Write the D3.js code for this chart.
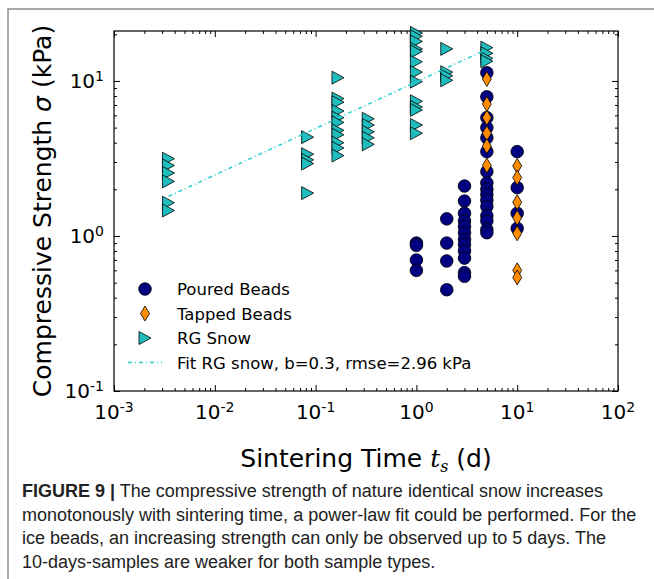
<!DOCTYPE html>
<html>
<head>
<meta charset="utf-8">
<script src="https://cdn.jsdelivr.net/npm/d3@7"></script>
<style>
  body { margin: 0; background: #fff; }
  svg { display: block; }
</style>
</head>
<body>
<div id="chart"></div>
<script>
// data (t in days, sigma in kPa)
var pouredT = [1, 1, 1, 1,
    2, 2, 2, 2,
    3, 3, 3, 3, 3, 3, 3, 3, 3, 3, 3, 3,
    5, 5, 5, 5, 5, 5, 5, 5, 5, 5, 5, 5, 5, 5, 5, 5,
    10, 10, 10, 10];
var pouredS = [0.90, 0.87, 0.70, 0.60,
    1.29, 0.90, 0.69, 0.45,
    2.1, 1.68, 1.4, 1.25, 1.15, 1.05, 0.95, 0.88, 0.8, 0.72, 0.58, 0.55,
    11.3, 7.9, 5.8, 5.0, 4.3, 3.5, 2.6, 2.2, 2.0, 1.85, 1.7, 1.55, 1.35, 1.25, 1.1, 1.05,
    3.5, 2.05, 1.4, 1.12];

var tappedT = [5, 5, 5, 5, 5, 5,
    10, 10, 10, 10, 10, 10, 10];
var tappedS = [10.3, 7.1, 5.8, 4.6, 3.8, 2.85,
    2.83, 2.38, 1.65, 1.31, 1.04, 0.6, 0.54];

var snowT = [0.00347, 0.00347, 0.00347, 0.00347, 0.00347, 0.00347,
    0.0833, 0.0833, 0.0833, 0.0833, 0.0833,
    0.1667, 0.1667, 0.1667, 0.1667, 0.1667, 0.1667, 0.1667, 0.1667, 0.1667, 0.1667, 0.1667,
    0.333, 0.333, 0.333, 0.333, 0.333,
    1, 1, 1, 1, 1, 1, 1, 1, 1, 1, 1, 1, 1,
    2, 2, 2, 2,
    5, 5, 5, 5];
var snowS = [3.15, 2.85, 2.55, 2.25, 1.64, 1.46,
    4.34, 3.37, 3.1, 2.93, 1.89,
    10.5, 7.7, 7.3, 6.4, 5.8, 5.4, 4.8, 4.5, 4.0, 3.7, 3.3,
    5.7, 5.2, 4.7, 4.3, 3.9,
    20.4, 19.4, 18.0, 16.1, 15.5, 13.3, 11.4, 9.9, 7.4, 6.8, 6.5, 5.2, 4.6,
    16.1, 11.4, 10.8, 10.1,
    16.4, 15.1, 14.0, 13.4];

// power-law fit, end points
var fitT = [0.00347, 5];
var fitS = [1.8, 16];

var xExp = [-3, -2, -1, 0, 1, 2];
var yExp = [-1, 0, 1];

var legendLabels = ["Poured Beads", "Tapped Beads", "RG Snow", "Fit RG snow, b=0.3, rmse=2.96 kPa"];

var captionBold = "FIGURE 9 |";
var captionLines = [
    " The compressive strength of nature identical snow increases",
    "monotonously with sintering time, a power-law fit could be performed. For the",
    "ice beads, an increasing strength can only be observed up to 5 days. The",
    "10-days-samples are weaker for both sample types."
];

var W = 654, H = 579;
var margin = { top: 31, right: 36, bottom: 188, left: 114 },
    width = W - margin.left - margin.right,
    height = H - margin.top - margin.bottom;

var svg = d3.select("#chart")
    .append("svg")
    .attr("width", W)
    .attr("height", H);

// figure frame (grey)
svg.append("path")
    .attr("d", "M8,579 L8,9 L654,9")
    .attr("fill", "none")
    .attr("stroke", "#8f8f8f")
    .attr("stroke-width", 1.5);

var g = svg.append("g")
    .attr("transform", "translate(" + margin.left + "," + margin.top + ")");

var x = d3.scaleLog().domain([1e-3, 1e2]).range([0, width]);
var y = d3.scaleLog().domain([0.1, 21]).range([height, 0]);

var majX = xExp.map(e => Math.pow(10, e));
var majY = yExp.map(e => Math.pow(10, e));
var minX = [], minY = [];
xExp.slice(0, -1).forEach(e => { for (var k = 2; k < 10; k++) minX.push(k * Math.pow(10, e)); });
[-1, 0, 1].forEach(e => { for (var k = 2; k < 10; k++) { var v = k * Math.pow(10, e); if (v <= 21) minY.push(v); } });

// ticks on all four sides, pointing inward
function addAxis(axis, tr) {
    var a = g.append("g").attr("transform", tr).call(axis);
    a.select(".domain").remove();
    a.selectAll("line").attr("stroke", "#000").attr("stroke-width", 1);
}
addAxis(d3.axisBottom(x).tickValues(majX).tickSize(-6).tickFormat(""), "translate(0," + height + ")");
addAxis(d3.axisBottom(x).tickValues(minX).tickSize(-3).tickFormat(""), "translate(0," + height + ")");
addAxis(d3.axisTop(x).tickValues(majX).tickSize(-6).tickFormat(""), "translate(0,0)");
addAxis(d3.axisTop(x).tickValues(minX).tickSize(-3).tickFormat(""), "translate(0,0)");
addAxis(d3.axisLeft(y).tickValues(majY).tickSize(-6).tickFormat(""), "translate(0,0)");
addAxis(d3.axisLeft(y).tickValues(minY).tickSize(-3).tickFormat(""), "translate(0,0)");
addAxis(d3.axisRight(y).tickValues(majY).tickSize(-6).tickFormat(""), "translate(" + width + ",0)");
addAxis(d3.axisRight(y).tickValues(minY).tickSize(-3).tickFormat(""), "translate(" + width + ",0)");

g.append("rect")
    .attr("width", width)
    .attr("height", height)
    .attr("fill", "none")
    .attr("stroke", "#000")
    .attr("stroke-width", 1.2);

// tick labels 10^n
function powLabel(sel, e) {
    sel.append("tspan").text("10");
    sel.append("tspan").attr("dy", "-0.5em").style("font-size", "14px").text(e < 0 ? "-" + (-e) : e);
}
xExp.forEach(function (e) {
    var t = g.append("text")
        .attr("x", x(Math.pow(10, e)))
        .attr("y", height + 28)
        .attr("text-anchor", "middle")
        .style("font-family", "DejaVu Sans")
        .style("font-size", "20px");
    powLabel(t, e);
});
yExp.forEach(function (e) {
    var t = g.append("text")
        .attr("x", -10)
        .attr("y", y(Math.pow(10, e)) + 7)
        .attr("text-anchor", "end")
        .style("font-family", "DejaVu Sans")
        .style("font-size", "20px");
    powLabel(t, e);
});

// axis titles
var xt = svg.append("text")
    .attr("x", margin.left + width / 2)
    .attr("y", 467)
    .attr("text-anchor", "middle")
    .style("font-family", "DejaVu Sans")
    .style("font-size", "25px");
xt.append("tspan").text("Sintering Time ");
xt.append("tspan").style("font-family", "DejaVu Serif").style("font-style", "italic").text("t");
xt.append("tspan").attr("dy", 5).style("font-family", "DejaVu Serif").style("font-style", "italic").style("font-size", "16px").text("s");
xt.append("tspan").attr("dy", -5).text(" (d)");

var yt = svg.append("text")
    .attr("transform", "translate(51," + (margin.top + height / 2) + ") rotate(-90)")
    .attr("text-anchor", "middle")
    .style("font-family", "DejaVu Sans")
    .style("font-size", "25px");
yt.append("tspan").text("Compressive Strength ");
yt.append("tspan").style("font-style", "italic").text("σ");
yt.append("tspan").text(" (kPa)");

// markers
var triangle = "M-6,-6.5L6,0L-6,6.5Z";
var diamond = "M0,-7.5L4.5,0L0,7.5L-4.5,0Z";

var fitLine = d3.line()
    .x(d => x(d[0]))
    .y(d => y(d[1]));

g.append("g").selectAll("circle")
    .data(d3.zip(pouredT, pouredS))
    .enter()
    .append("circle")
    .attr("cx", d => x(d[0]))
    .attr("cy", d => y(d[1]))
    .attr("r", 6.3)
    .attr("fill", "#000080")
    .attr("stroke", "#000")
    .attr("stroke-width", 0.8);

g.append("g").selectAll("path")
    .data(d3.zip(tappedT, tappedS))
    .enter()
    .append("path")
    .attr("d", diamond)
    .attr("transform", d => "translate(" + x(d[0]) + "," + y(d[1]) + ")")
    .attr("fill", "#ff8c00")
    .attr("stroke", "#000")
    .attr("stroke-width", 0.8);

g.append("g").selectAll("path")
    .data(d3.zip(snowT, snowS))
    .enter()
    .append("path")
    .attr("d", triangle)
    .attr("transform", d => "translate(" + x(d[0]) + "," + y(d[1]) + ")")
    .attr("fill", "#1fbdbd")
    .attr("stroke", "#000")
    .attr("stroke-width", 0.8);

g.append("path")
    .datum(d3.zip(fitT, fitS))
    .attr("d", fitLine)
    .attr("fill", "none")
    .attr("stroke", "#2ad0d0")
    .attr("stroke-width", 1.5)
    .attr("stroke-dasharray", "4,3,1,3");

// legend (no frame)
var lg = svg.append("g").attr("transform", "translate(145,289)");
var step = 24.5;
lg.append("circle").attr("cx", 0).attr("cy", 0).attr("r", 6.3)
    .attr("fill", "#000080").attr("stroke", "#000").attr("stroke-width", 0.8);
lg.append("path").attr("d", diamond).attr("transform", "translate(0," + step + ")")
    .attr("fill", "#ff8c00").attr("stroke", "#000").attr("stroke-width", 0.8);
lg.append("path").attr("d", triangle).attr("transform", "translate(0," + 2 * step + ")")
    .attr("fill", "#1fbdbd").attr("stroke", "#000").attr("stroke-width", 0.8);
lg.append("line").attr("x1", -17).attr("x2", 17).attr("y1", 3 * step).attr("y2", 3 * step)
    .attr("stroke", "#2ad0d0").attr("stroke-width", 1.5).attr("stroke-dasharray", "4,3,1,3");
legendLabels.forEach(function (s, i) {
    lg.append("text")
        .attr("x", 32)
        .attr("y", i * step + 6)
        .style("font-family", "DejaVu Sans")
        .style("font-size", "16.5px")
        .text(s);
});

// caption
var cap = svg.append("g")
    .style("font-family", "'Liberation Sans Narrow', 'Liberation Sans', sans-serif")
    .style("font-size", "18px")
    .attr("fill", "#222");
captionLines.forEach(function (s, i) {
    var t = cap.append("text").attr("x", 22).attr("y", 497 + i * 23.5);
    if (i === 0) t.append("tspan").style("font-weight", "bold").text(captionBold);
    t.append("tspan").text(s);
});
</script>
</body>
</html>
